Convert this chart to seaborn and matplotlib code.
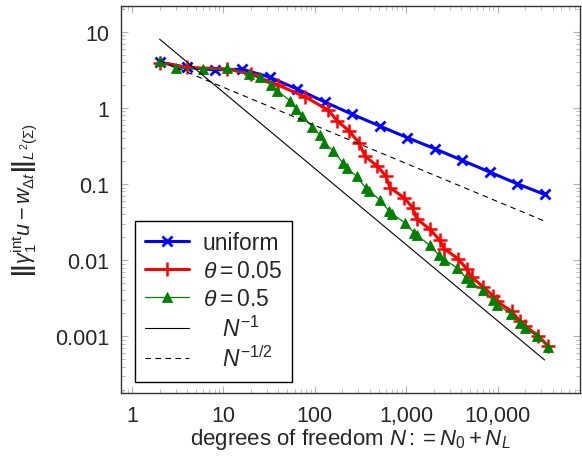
import numpy as np
import pandas as pd
import matplotlib
matplotlib.use("Agg")
import matplotlib.pyplot as plt
import matplotlib.ticker as mticker
import seaborn as sns

# uniform refinement
n_uniform = [2, 4, 8, 16, 32, 64, 128, 256, 512, 1024, 2048, 4096, 8192, 16384, 32768]
err_uniform = [4.0, 3.4, 3.16, 3.23, 2.54, 1.77, 1.20, 0.826, 0.58, 0.408,
               0.292, 0.205, 0.144, 0.101, 0.073]

# adaptive, theta = 0.05
n_theta005 = [2, 4, 11, 20, 40, 79, 140, 176, 238, 307, 354, 483, 601, 665, 947,
              1178, 1303, 1821, 2344, 2611, 3717, 4590, 5207, 6980, 8840, 9775,
              14260, 17580, 19950, 27870, 35860]
err_theta005 = [3.95, 3.40, 3.25, 2.77, 1.99, 1.39, 0.94, 0.675, 0.498, 0.343, 0.233,
                0.172, 0.127, 0.0897, 0.0663, 0.0489, 0.0351, 0.0254, 0.0182, 0.0141,
                0.0104, 0.0077, 0.00597, 0.00446, 0.00343, 0.00289, 0.00213, 0.00158,
                0.00136, 0.00102, 0.00074]

# adaptive, theta = 0.5
n_theta05 = [2, 3, 6, 11, 19, 25, 33, 39, 54, 62, 73, 94, 114, 126, 159, 202, 223,
             287, 359, 395, 513, 645, 703, 970, 1217, 1322, 1821, 2302, 2592, 3624,
             4510, 5079, 6980, 8836, 9930, 13900, 17580, 19950, 27180, 35890]
err_theta05 = [4.15, 3.35, 3.28, 3.30, 2.80, 2.54, 2.0, 1.67, 1.24, 0.962, 0.778,
               0.566, 0.437, 0.351, 0.272, 0.191, 0.164, 0.126, 0.0897, 0.0809,
               0.0621, 0.0448, 0.0405, 0.0310, 0.0230, 0.0211, 0.0156, 0.01153,
               0.0102, 0.00794, 0.00586, 0.00514, 0.00403, 0.00298, 0.00261,
               0.00199, 0.0015, 0.00129, 0.001, 0.000726]

# reference slopes
n_ref = [2, 32768]
ref_first = [8.0, 8.0 * 2 / 32768]
ref_half = [4.17, 4.17 * np.sqrt(2 / 32768)]

x_ticks = [1, 10, 100, 1000, 10000]
x_ticklabels = ["1", "10", "100", "1,000", "10,000"]
y_ticks = [0.001, 0.01, 0.1, 1, 10]
y_ticklabels = ["0.001", "0.01", "0.1", "1", "10"]

sns.set_style("ticks")
plt.rcParams["font.family"] = ["Liberation Sans", "DejaVu Sans"]
plt.rcParams["mathtext.fontset"] = "custom"
plt.rcParams["mathtext.rm"] = "Liberation Sans"
plt.rcParams["mathtext.it"] = "Liberation Sans:italic"
plt.rcParams["mathtext.bf"] = "Liberation Sans:bold"

fig = plt.figure(figsize=(5.82, 4.6), dpi=100)
ax = fig.add_axes([0.2074, 0.1435, 0.9966 - 0.2074, 0.984 - 0.1435])

sns.lineplot(x=n_uniform, y=err_uniform, ax=ax, color="#0000ff", lw=2.2,
             marker="x", markersize=7.5, markeredgewidth=2, markeredgecolor="#0000ff",
             label="uniform", estimator=None)
sns.lineplot(x=n_theta005, y=err_theta005, ax=ax, color="#ff0000", lw=2.2,
             marker="+", markersize=9.5, markeredgewidth=1.8, markeredgecolor="#ff0000",
             label=r"$\theta = 0.05$", estimator=None)
sns.lineplot(x=n_theta05, y=err_theta05, ax=ax, color="#008000", lw=0.9,
             marker="^", markersize=7.5, markeredgewidth=0.6, markeredgecolor="#008000",
             label=r"$\theta = 0.5$", estimator=None)
sns.lineplot(x=n_ref, y=ref_first, ax=ax, color="black", lw=0.8,
             label=r"   $N^{-1}$", estimator=None)
sns.lineplot(x=n_ref, y=ref_half, ax=ax, color="black", lw=0.8, linestyle=(0, (5, 4)),
             label=r"   $N^{-1/2}$", estimator=None)

ax.set_xscale("log")
ax.set_yscale("log")
ax.set_xlim(0.75, 80000)
ax.set_ylim(1.8e-4, 21.6)

ax.xaxis.set_major_locator(mticker.FixedLocator(x_ticks))
ax.xaxis.set_major_formatter(mticker.FixedFormatter(x_ticklabels))
ax.yaxis.set_major_locator(mticker.FixedLocator(y_ticks))
ax.yaxis.set_major_formatter(mticker.FixedFormatter(y_ticklabels))
ax.xaxis.set_minor_locator(mticker.LogLocator(base=10, subs=np.arange(2, 10), numticks=20))
ax.yaxis.set_minor_locator(mticker.LogLocator(base=10, subs=np.arange(2, 10), numticks=20))
ax.xaxis.set_minor_formatter(mticker.NullFormatter())
ax.yaxis.set_minor_formatter(mticker.NullFormatter())

ax.tick_params(which="both", direction="in", top=True, right=True, color="#b0b0b0",
               labelsize=15.5)
ax.tick_params(axis="x", pad=9)
ax.tick_params(axis="y", pad=8)
ax.tick_params(which="major", length=5, width=0.8)
ax.tick_params(which="minor", length=3, width=0.6)
for s in ax.spines.values():
    s.set_color("#333333")
    s.set_linewidth(1.0)

ax.set_xlabel(r"degrees of freedom $N := N_0 + N_L$", fontsize=16, labelpad=0)
ax.set_ylabel(r"$\left\|\gamma_1^{\mathrm{int}}u - w_{\Delta t}\right\|_{L^2(\Sigma)}$",
              fontsize=15.5, labelpad=12)

leg = ax.legend(loc="lower left", bbox_to_anchor=(0.031, 0.029), borderaxespad=0,
                fontsize=16.5, frameon=True, fancybox=False, edgecolor="black",
                framealpha=1, handlelength=1.9, handletextpad=0.6, labelspacing=0.22,
                numpoints=1, borderpad=0.45)
leg.get_frame().set_linewidth(1.0)

fig.savefig("out.png", dpi=100)
